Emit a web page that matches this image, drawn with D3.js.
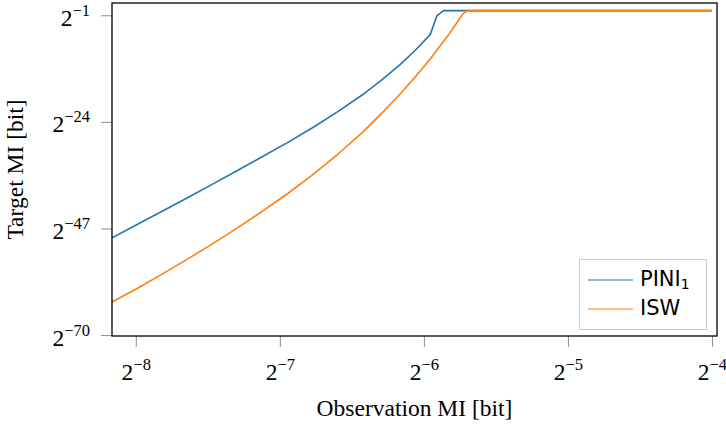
<!DOCTYPE html>
<html>
<head>
<meta charset="utf-8">
<script src="https://cdn.jsdelivr.net/npm/d3@7"></script>
<style>
  html, body { margin: 0; padding: 0; background: #fff; }
  svg { display: block; }
  .serif { font-family: "Liberation Serif", "DejaVu Serif", serif; }
  .sans { font-family: "DejaVu Sans", sans-serif; }
</style>
</head>
<body>
<svg id="chart" width="726" height="424"></svg>
<script>
// Observation MI and target MI, both as log2 exponents (value = 2^e bits)
const piniObsExp    = [-8.165, -7.991, -7.817, -7.644, -7.470, -7.297, -7.123, -6.947, -6.773, -6.600, -6.426, -6.290, -6.165, -6.061, -5.956, -5.910, -5.864, -4.0];
const piniTargetExp = [-49.02, -46.15, -43.29, -40.42, -37.49, -34.55, -31.53, -28.47, -25.26, -21.85, -18.15, -14.89, -11.63, -8.59, -5.17, -1.15, 0.0, 0.0];

const iswObsExp    = [-8.165, -7.991, -7.817, -7.644, -7.470, -7.297, -7.123, -6.947, -6.773, -6.600, -6.426, -6.290, -6.165, -6.061, -5.956, -5.838, -5.783, -5.727, -5.697, -4.0];
const iswTargetExp = [-62.85, -59.95, -56.85, -53.68, -50.38, -46.93, -43.33, -39.51, -35.44, -31.04, -26.25, -22.07, -17.99, -14.35, -10.41, -5.60, -3.16, -0.64, 0.0, 0.0];

const xTickExp = [-8, -7, -6, -5, -4];
const yTickExp = [-70, -47, -24, -1];

const seriesNames  = ["PINI", "ISW"];
const seriesColors = ["#1f77b4", "#ff7f0e"];

const toPoints = (xs, ys) => xs.map((e, i) => [Math.pow(2, e), Math.pow(2, ys[i])]);
const series = [
  { name: seriesNames[0], sub: "1", color: seriesColors[0], pts: toPoints(piniObsExp, piniTargetExp) },
  { name: seriesNames[1], sub: null, color: seriesColors[1], pts: toPoints(iswObsExp, iswTargetExp) }
];

const plotLeft = 112, plotRight = 717, plotTop = 3, plotBottom = 336;

const x = d3.scaleLog().base(2)
  .domain([Math.pow(2, -8.165), Math.pow(2, -3.965)])
  .range([plotLeft, plotRight]);
const y = d3.scaleLog().base(2)
  .domain([Math.pow(2, -70.2), Math.pow(2, 1.65)])
  .range([plotBottom, plotTop]);

const svg = d3.select("#chart");

svg.append("defs").append("clipPath").attr("id", "plot-clip")
  .append("rect").attr("x", plotLeft).attr("y", plotTop)
  .attr("width", plotRight - plotLeft).attr("height", plotBottom - plotTop);

// Axes with outward gray ticks
const xAxis = svg.append("g").attr("transform", `translate(0,${plotBottom})`)
  .call(d3.axisBottom(x).tickValues(xTickExp.map(e => Math.pow(2, e)))
    .tickSize(11).tickFormat(""));
const yAxis = svg.append("g").attr("transform", `translate(${plotLeft},0)`)
  .call(d3.axisLeft(y).tickValues(yTickExp.map(e => Math.pow(2, e)))
    .tickSize(11).tickFormat(""));

[xAxis, yAxis].forEach(g => {
  g.select(".domain").remove();
  g.selectAll(".tick line").attr("stroke", "#8c8c8c").attr("stroke-width", 1);
});

// Power-of-two tick labels
xAxis.selectAll(".tick").each(function (d) {
  const t = d3.select(this).append("text")
    .attr("class", "serif").attr("fill", "#000")
    .attr("text-anchor", "middle").attr("y", 44);
  t.append("tspan").attr("font-size", 23.5).text("2");
  t.append("tspan").attr("font-size", 16.5).attr("dy", -10)
    .text("\u2212" + Math.round(-Math.log2(d)));
});
yAxis.selectAll(".tick").each(function (d) {
  const t = d3.select(this).append("text")
    .attr("class", "serif").attr("fill", "#000")
    .attr("text-anchor", "end").attr("x", -22).attr("y", 10);
  t.append("tspan").attr("font-size", 23.5).text("2");
  t.append("tspan").attr("font-size", 16.5).attr("dy", -10)
    .text("\u2212" + Math.round(-Math.log2(d)));
});

// Curves (piecewise linear through the sampled points)
const line = d3.line()
  .x(d => x(d[0])).y(d => y(d[1]))
  .curve(d3.curveLinear);

svg.append("g").attr("clip-path", "url(#plot-clip)")
  .selectAll("path").data(series).join("path")
  .attr("d", d => line(d.pts))
  .attr("fill", "none")
  .attr("stroke", d => d.color)
  .attr("stroke-width", 1.6)
  .attr("stroke-linejoin", "round");

// Plot frame
svg.append("rect")
  .attr("x", plotLeft).attr("y", plotTop)
  .attr("width", plotRight - plotLeft).attr("height", plotBottom - plotTop)
  .attr("fill", "none").attr("stroke", "#000").attr("stroke-width", 1.3);

// Axis titles
svg.append("text").attr("class", "serif")
  .attr("x", (plotLeft + plotRight) / 2).attr("y", 416)
  .attr("text-anchor", "middle").attr("font-size", 23.5)
  .text("Observation MI [bit]");
svg.append("text").attr("class", "serif")
  .attr("transform", `translate(23,${(plotTop + plotBottom) / 2}) rotate(-90)`)
  .attr("text-anchor", "middle").attr("font-size", 23.5)
  .text("Target MI [bit]");

// Legend
const legend = svg.append("g");
legend.append("rect")
  .attr("x", 579.5).attr("y", 259.5).attr("width", 127).attr("height", 70)
  .attr("fill", "#fff").attr("stroke", "#cccccc").attr("stroke-width", 1);
series.forEach((s, i) => {
  const ly = 280 + i * 29;
  legend.append("line")
    .attr("x1", 588).attr("x2", 633).attr("y1", ly).attr("y2", ly)
    .attr("stroke", s.color).attr("stroke-width", 1.2);
  const t = legend.append("text").attr("class", "sans")
    .attr("x", 640).attr("y", ly + 6).attr("font-size", 21).attr("fill", "#000");
  t.append("tspan").text(s.name);
  if (s.sub) t.append("tspan").attr("font-size", 14).attr("dy", 3).text(s.sub);
});
</script>
</body>
</html>
